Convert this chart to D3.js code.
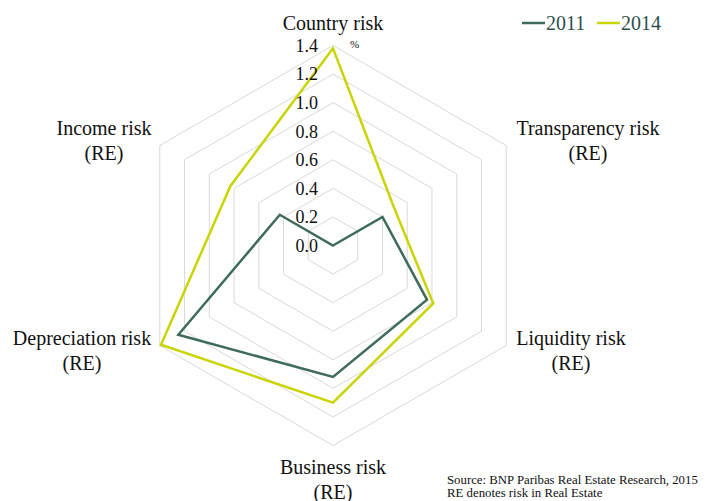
<!DOCTYPE html>
<meta charset="utf-8">
<script src="https://d3js.org/d3.v7.js"></script>
<style>
  body { margin: 0; background: #fff; }
  svg text { font-family: "Liberation Serif", "Times New Roman", Times, serif; }
</style>
<div id="my_dataviz"></div>
<script>

    // data
    const categories = ["Country risk", "Transparency risk\n(RE)", "Liquidity risk\n(RE)",
                        "Business risk\n(RE)", "Depreciation risk\n(RE)", "Income risk\n(RE)"];
    const values2011 = [0.0, 0.40, 0.76, 0.92, 1.25, 0.43];
    const values2014 = [1.38, 0.50, 0.81, 1.10, 1.39, 0.83];
    const tickValues = [0, 0.2, 0.4, 0.6, 0.8, 1.0, 1.2, 1.4];
    const seriesNames = ["2011", "2014"];
    const colors = ["#3f6b5b", "#c9d400"];

    // label placement (center x, first baseline y) per axis
    const labelPos = [[333, 30], [588, 135], [571, 345], [333, 474], [82, 345], [104, 135]];

    const width = 707, height = 501;
    const cx = 333, cy = 245.5;

    const svg = d3.select("#my_dataviz")
      .append("svg")
        .attr("width", width)
        .attr("height", height)
        .attr("font-family", "'Liberation Serif', 'Times New Roman', serif");

    const r = d3.scaleLinear().domain([0, 1.4]).range([0, 200]);
    const angle = i => i * 2 * Math.PI / categories.length;

    const radial = d3.lineRadial()
      .angle((d, i) => angle(i))
      .radius(d => r(d))
      .curve(d3.curveLinearClosed);

    const g = svg.append("g").attr("transform", `translate(${cx},${cy})`);

    // grid rings
    g.selectAll(".ring")
      .data(tickValues.slice(1))
      .join("path")
        .attr("class", "ring")
        .attr("d", t => radial(categories.map(() => t)))
        .attr("fill", "none")
        .attr("stroke", "#d9d9d9")
        .attr("stroke-width", 1);

    // series
    const series = [values2011, values2014];
    g.selectAll(".series")
      .data(series)
      .join("path")
        .attr("class", "series")
        .attr("d", d => radial(d))
        .attr("fill", "none")
        .attr("stroke", (d, i) => colors[i])
        .attr("stroke-width", 2.5)
        .attr("stroke-linejoin", "miter");

    // tick labels
    g.selectAll(".tick")
      .data(tickValues)
      .join("text")
        .attr("class", "tick")
        .attr("x", -15)
        .attr("y", t => -r(t))
        .attr("dy", "0.35em")
        .attr("text-anchor", "end")
        .style("font-size", "18px")
        .attr("fill", "#111")
        .text(t => t.toFixed(1));

    g.append("text")
      .attr("x", 17)
      .attr("y", -r(1.4) + 2)
      .style("font-size", "11px")
      .attr("fill", "#111")
      .text("%");

    // category labels
    categories.forEach((c, i) => {
      const t = svg.append("text")
        .attr("text-anchor", "middle")
        .style("font-size", "20px")
        .attr("fill", "#111");
      c.split("\n").forEach((line, j) => {
        t.append("tspan")
          .attr("x", labelPos[i][0])
          .attr("y", labelPos[i][1] + j * 24.5)
          .text(line);
      });
    });

    // legend
    const legend = svg.append("g");
    const legendX = [522, 597];
    seriesNames.forEach((s, i) => {
      legend.append("line")
        .attr("x1", legendX[i]).attr("x2", legendX[i] + 23)
        .attr("y1", 23).attr("y2", 23)
        .attr("stroke", colors[i])
        .attr("stroke-width", 2.5);
      legend.append("text")
        .attr("x", legendX[i] + 24)
        .attr("y", 30)
        .style("font-size", "20px")
        .attr("fill", "#2f4f4f")
        .text(s);
    });

    // notes
    svg.append("text")
      .attr("x", 447).attr("y", 484)
      .style("font-size", "12.8px")
      .attr("fill", "#111")
      .text("Source: BNP Paribas Real Estate Research, 2015");
    svg.append("text")
      .attr("x", 447).attr("y", 497)
      .style("font-size", "12.8px")
      .attr("fill", "#111")
      .text("RE denotes risk in Real Estate");

</script>
